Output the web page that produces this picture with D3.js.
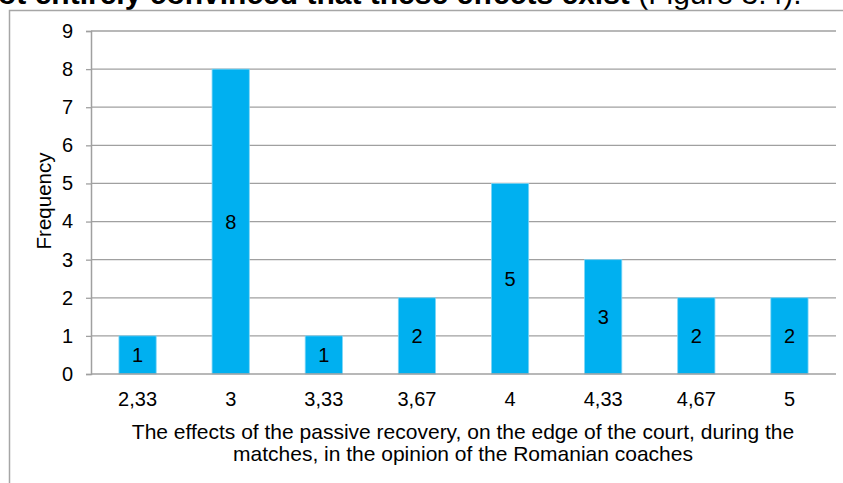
<!DOCTYPE html>
<html>
<head>
<meta charset="utf-8">
<script src="https://cdn.jsdelivr.net/npm/d3@7"></script>
<style>
  html, body { margin: 0; padding: 0; background: #fff; }
  svg { display: block; }
  text { font-family: "Liberation Sans", Arial, sans-serif; fill: #000; }
</style>
</head>
<body>
<svg id="chart" width="843" height="483"></svg>
<script>
// Scores given by coaches and how many coaches gave each score
const categories = ["2,33", "3", "3,33", "3,67", "4", "4,33", "4,67", "5"];
const frequencies = [1, 8, 1, 2, 5, 3, 2, 2];
const yTicks = [0, 1, 2, 3, 4, 5, 6, 7, 8, 9];
const xTitleLines = [
  "The effects of the passive recovery, on the edge of the court, during the",
  "matches, in the opinion of the Romanian coaches"
];
const yTitle = "Frequency";
const headingBold = "ot entirely convinced that these effects exist ";
const headingRegular = "(Figure 3.4).";

const svg = d3.select("#chart");
const plot = { left: 91, right: 836, top: 31, bottom: 374 };

const x = d3.scaleBand()
  .domain(categories)
  .range([plot.left, plot.right])
  .paddingInner(0.6)
  .paddingOuter(0.3);

const y = d3.scaleLinear()
  .domain([0, 9])
  .range([plot.bottom, plot.top]);

// Running heading of the page text above the figure
const heading = svg.append("text")
  .attr("x", -2)
  .attr("y", 4)
  .style("font-size", "30px");
heading.append("tspan").style("font-weight", "bold").text(headingBold);
heading.append("tspan").text(headingRegular);

// Figure frame
svg.append("path")
  .attr("d", "M9.5,483 V10.5 H843")
  .attr("fill", "none")
  .attr("stroke", "#a6a6a6")
  .attr("stroke-width", 1.5);

// Horizontal gridlines
svg.append("g")
  .selectAll("line")
  .data(yTicks.filter(d => d > 0))
  .join("line")
  .attr("x1", plot.left)
  .attr("x2", plot.right)
  .attr("y1", d => y(d))
  .attr("y2", d => y(d))
  .attr("stroke", "#a0a0a0")
  .attr("stroke-width", 1.3);

// Bars
svg.append("g")
  .selectAll("rect")
  .data(frequencies)
  .join("rect")
  .attr("x", (d, i) => x(categories[i]))
  .attr("y", d => y(d))
  .attr("width", x.bandwidth())
  .attr("height", d => y(0) - y(d))
  .attr("fill", "#00b0f0")
  .attr("stroke", "#7fd6f6")
  .attr("stroke-width", 0.8);

// Value labels centred in each bar
svg.append("g")
  .selectAll("text")
  .data(frequencies)
  .join("text")
  .attr("x", (d, i) => x(categories[i]) + x.bandwidth() / 2)
  .attr("y", d => (y(d) + y(0)) / 2)
  .attr("text-anchor", "middle")
  .attr("dominant-baseline", "central")
  .style("font-size", "20px")
  .text(d => d);

// Y axis
const yAxis = svg.append("g")
  .attr("transform", `translate(${plot.left},0)`)
  .call(d3.axisLeft(y).tickValues(yTicks).tickSize(5).tickPadding(13).tickFormat(d3.format("d")));
yAxis.select(".domain").attr("stroke", "#a0a0a0").attr("stroke-width", 1.5);
yAxis.selectAll(".tick line").attr("stroke", "#a0a0a0").attr("stroke-width", 1.3);
yAxis.selectAll(".tick text").style("font-size", "20px").attr("fill", "#000");

// X axis
const xAxis = svg.append("g")
  .attr("transform", `translate(0,${plot.bottom})`)
  .call(d3.axisBottom(x).tickSize(0).tickPadding(18));
xAxis.select(".domain").attr("stroke", "#a0a0a0").attr("stroke-width", 1.5)
  .attr("d", `M${plot.left},0H${plot.right}`);
xAxis.selectAll(".tick text").style("font-size", "20px").attr("fill", "#000");

// Axis titles
svg.append("g")
  .selectAll("text")
  .data(xTitleLines)
  .join("text")
  .attr("x", 463)
  .attr("y", (d, i) => 439 + i * 22)
  .attr("text-anchor", "middle")
  .style("font-size", "21px")
  .text(d => d);

svg.append("text")
  .attr("transform", "translate(51,201) rotate(-90)")
  .attr("text-anchor", "middle")
  .style("font-size", "20.5px")
  .text(yTitle);
</script>
</body>
</html>
